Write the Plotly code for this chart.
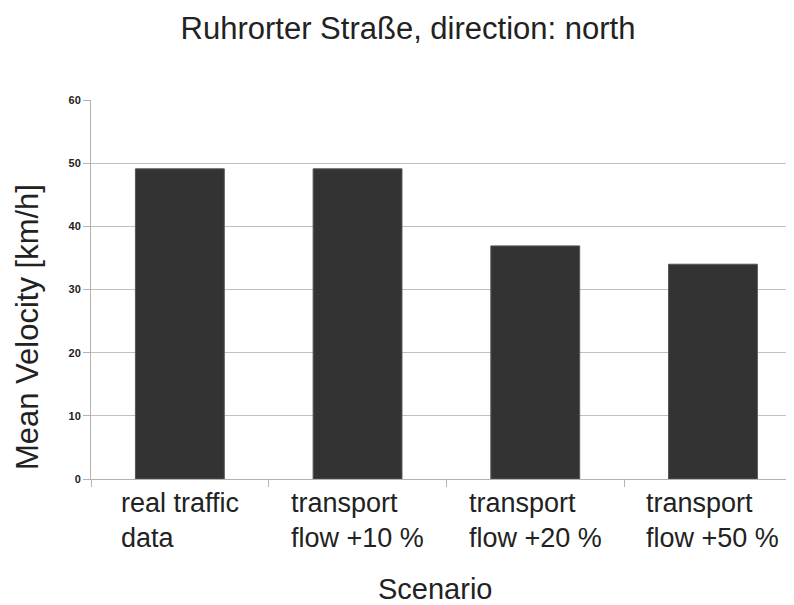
""" Bar chart of mean velocity per traffic scenario. """

import plotly.graph_objects as go

# chart data
scenarios = [
    "real traffic<br>data",
    "transport<br>flow +10 %",
    "transport<br>flow +20 %",
    "transport<br>flow +50 %",
]
mean_velocity = [49.1, 49.1, 36.9, 34.0]
y_ticks = [0, 10, 20, 30, 40, 50, 60]

FONT = "Liberation Sans"
TEXT_COLOR = "#222222"
GRID_COLOR = "#c0c0c0"

# the page body adds an 8px offset, so the figure is drawn a bit smaller
FIG_W, FIG_H = 786, 597

positions = list(range(len(scenarios)))

fig = go.Figure()
fig.add_trace(
    go.Bar(
        x=positions,
        y=mean_velocity,
        width=0.5,
        marker={"color": "#333333", "line": {"color": "#555555", "width": 1}},
        showlegend=False,
    )
)

# category labels: centred block, lines aligned left
for pos, label in zip(positions, scenarios):
    fig.add_annotation(
        x=pos,
        y=-0.019,
        xref="x",
        yref="paper",
        text=label,
        showarrow=False,
        xanchor="center",
        yanchor="top",
        align="left",
        font={"family": FONT, "size": 27, "color": TEXT_COLOR},
    )

fig.add_annotation(
    x=0.489,
    y=-0.291,
    xref="paper",
    yref="paper",
    text="Scenario",
    showarrow=False,
    xanchor="center",
    yanchor="middle",
    font={"family": FONT, "size": 29, "color": TEXT_COLOR},
)

fig.add_annotation(
    x=-0.091,
    y=0.401,
    xref="paper",
    yref="paper",
    text="Mean Velocity [km/h]",
    textangle=-90,
    showarrow=False,
    xanchor="center",
    yanchor="middle",
    font={"family": FONT, "size": 31, "color": TEXT_COLOR},
)

fig.update_layout(
    width=FIG_W,
    height=FIG_H,
    margin={"l": 83, "r": 0, "t": 92, "b": 126},
    paper_bgcolor="white",
    plot_bgcolor="white",
    title={
        "text": "Ruhrorter Straße, direction: north",
        "x": 400 / FIG_W,
        "xanchor": "center",
        "y": 1 - 20 / FIG_H,
        "yanchor": "middle",
        "font": {"family": FONT, "size": 31, "color": TEXT_COLOR},
    },
)

fig.update_xaxes(
    type="linear",
    range=[-0.5, 3.456],
    tickmode="array",
    tickvals=[p - 0.5 for p in positions],
    ticks="outside",
    ticklen=7,
    tickcolor="#b3b3b3",
    showticklabels=False,
    showgrid=False,
    zeroline=False,
    showline=True,
    linecolor="#b3b3b3",
    linewidth=1,
)

fig.update_yaxes(
    range=[0, 60],
    tickmode="array",
    tickvals=y_ticks,
    ticks="outside",
    ticklen=7,
    tickcolor="#b3b3b3",
    tickfont={"family": FONT, "size": 11, "color": TEXT_COLOR, "weight": "bold"},
    showgrid=True,
    gridcolor=GRID_COLOR,
    gridwidth=1,
    zeroline=False,
    showline=True,
    linecolor="#b3b3b3",
    linewidth=1,
)

fig.write_html("out.html")
